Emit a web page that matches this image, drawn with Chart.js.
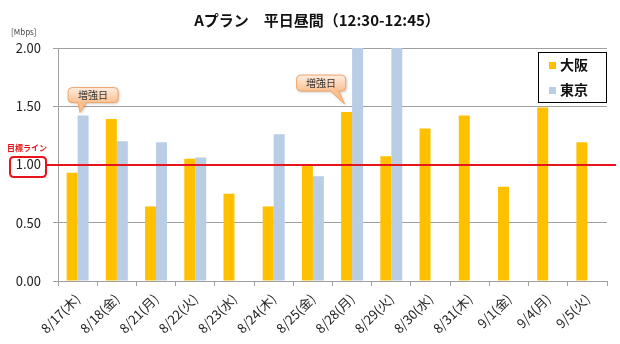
<!DOCTYPE html>
<html>
<head>
<meta charset="utf-8">
<script src="https://cdn.jsdelivr.net/npm/chart.js@4.4.1/dist/chart.umd.min.js"></script>
<style>
  html, body { margin: 0; padding: 0; background: #fff; }
  #wrap { width: 620px; height: 344px; position: relative; }
</style>
</head>
<body>
<div id="wrap"><canvas id="c" width="620" height="344"></canvas></div>
<script>
// Weekday daytime throughput (Mbps), 12:30-12:45
const categories = ['8/17(木)', '8/18(金)', '8/21(月)', '8/22(火)', '8/23(水)', '8/24(木)', '8/25(金)',
                    '8/28(月)', '8/29(火)', '8/30(水)', '8/31(木)', '9/1(金)', '9/4(月)', '9/5(火)'];
const osaka = [0.93, 1.39, 0.64, 1.05, 0.75, 0.64, 1.00, 1.45, 1.07, 1.31, 1.42, 0.81, 1.49, 1.19];
const tokyo = [1.42, 1.20, 1.19, 1.06, null, 1.26, 0.90, 2.00, 2.00, null, null, null, null, null];
const seriesNames = ['大阪', '東京'];
const yTickValues = [0, 0.5, 1.0, 1.5, 2.0];
const targetValue = 1.00;
// callouts: [dataset index, category index]
const boostCallouts = [[1, 0], [0, 7]];

const COLORS = ['#FFC000', '#B9CDE5'];
const JP = '"Noto Sans CJK JP", "Noto Sans", sans-serif';

function roundRect(ctx, x, y, w, h, r) {
  ctx.beginPath();
  ctx.moveTo(x + r, y);
  ctx.lineTo(x + w - r, y);
  ctx.quadraticCurveTo(x + w, y, x + w, y + r);
  ctx.lineTo(x + w, y + h - r);
  ctx.quadraticCurveTo(x + w, y + h, x + w - r, y + h);
  ctx.lineTo(x + r, y + h);
  ctx.quadraticCurveTo(x, y + h, x, y + h - r);
  ctx.lineTo(x, y + r);
  ctx.quadraticCurveTo(x, y, x + r, y);
  ctx.closePath();
}

function drawCallout(ctx, box, tail, tip, text) {
  // box: {x,y,w,h}; tail: [x1,x2] on bottom edge; tip: {x,y}
  ctx.save();
  ctx.shadowColor = 'rgba(0,0,0,0.25)';
  ctx.shadowBlur = 3;
  ctx.shadowOffsetX = 1;
  ctx.shadowOffsetY = 1;
  const r = 4, x = box.x, y = box.y, w = box.w, h = box.h;
  ctx.beginPath();
  ctx.moveTo(x + r, y);
  ctx.lineTo(x + w - r, y);
  ctx.quadraticCurveTo(x + w, y, x + w, y + r);
  ctx.lineTo(x + w, y + h - r);
  ctx.quadraticCurveTo(x + w, y + h, x + w - r, y + h);
  ctx.lineTo(tail[1], y + h);
  ctx.lineTo(tip.x, tip.y);
  ctx.lineTo(tail[0], y + h);
  ctx.lineTo(x + r, y + h);
  ctx.quadraticCurveTo(x, y + h, x, y + h - r);
  ctx.lineTo(x, y + r);
  ctx.quadraticCurveTo(x, y, x + r, y);
  ctx.closePath();
  const g = ctx.createLinearGradient(0, y, 0, y + h);
  g.addColorStop(0, '#FEEEE2');
  g.addColorStop(1, '#FAC08F');
  ctx.fillStyle = g;
  ctx.fill();
  ctx.shadowColor = 'transparent';
  ctx.strokeStyle = '#F2A46A';
  ctx.lineWidth = 1;
  ctx.stroke();
  ctx.fillStyle = '#333';
  ctx.font = '10px ' + JP;
  ctx.textAlign = 'center';
  ctx.textBaseline = 'middle';
  ctx.fillText(text, x + w / 2, y + h / 2 + 0.5);
  ctx.restore();
}

const decor = {
  id: 'decor',
  beforeDraw(chart) {
    const ctx = chart.ctx;
    ctx.save();
    ctx.fillStyle = '#fff';
    ctx.fillRect(0, 0, chart.width, chart.height);
    ctx.restore();
  },
  afterDatasetsDraw(chart) {
    const ctx = chart.ctx;
    const ys = chart.scales.y;
    const area = chart.chartArea;
    const yT = Math.round(ys.getPixelForValue(targetValue));

    // target line
    ctx.save();
    ctx.strokeStyle = '#E8141B';
    ctx.lineWidth = 2;
    ctx.beginPath();
    ctx.moveTo(46, yT);
    ctx.lineTo(area.right + 9, yT);
    ctx.stroke();
    // box round the 1.00 tick label
    roundRect(ctx, 10, yT - 8, 36, 20, 4);
    ctx.stroke();
    ctx.fillStyle = '#E8141B';
    ctx.font = 'bold 8px ' + JP;
    ctx.textAlign = 'left';
    ctx.textBaseline = 'middle';
    ctx.fillText('目標ライン', 7, yT - 17);
    ctx.restore();

    // callouts anchored to bar tops
    boostCallouts.forEach(([ds, idx], k) => {
      const bar = chart.getDatasetMeta(ds).data[idx];
      if (k === 0) {
        const tip = { x: bar.x - 3, y: bar.y - 3 };
        drawCallout(ctx, { x: tip.x - 12, y: tip.y - 25, w: 50, h: 15 }, [tip.x - 2, tip.x + 6], tip, '増強日');
      } else {
        const tip = { x: bar.x - 2, y: bar.y - 8 };
        drawCallout(ctx, { x: tip.x - 48, y: tip.y - 29, w: 49, h: 16 }, [tip.x - 14, tip.x - 6], tip, '増強日');
      }
    });

    // legend
    ctx.save();
    const lx = 538, ly = 52, lw = 69, lh = 51;
    ctx.fillStyle = '#fff';
    ctx.fillRect(lx, ly, lw, lh);
    ctx.strokeStyle = '#000';
    ctx.lineWidth = 1;
    ctx.strokeRect(lx + 0.5, ly + 0.5, lw - 1, lh - 1);
    ctx.font = 'bold 14px ' + JP;
    ctx.textBaseline = 'middle';
    ctx.textAlign = 'left';
    seriesNames.forEach((name, i) => {
      const cy = ly + 13 + i * 25;
      ctx.fillStyle = COLORS[i];
      ctx.fillRect(549, cy - 3, 7, 7);
      ctx.fillStyle = '#111';
      ctx.fillText(name, 560, cy);
    });
    ctx.restore();
  },
  afterDraw(chart) {
    const ctx = chart.ctx;
    ctx.save();
    ctx.fillStyle = '#111';
    ctx.font = 'bold 15px ' + JP;
    ctx.textAlign = 'center';
    ctx.textBaseline = 'middle';
    ctx.fillText('Aプラン　平日昼間（12:30-12:45）', 317, 20);
    ctx.font = '8px ' + JP;
    ctx.textAlign = 'left';
    ctx.fillStyle = '#444';
    ctx.fillText('[Mbps]', 11, 32);
    ctx.restore();
  }
};

new Chart(document.getElementById('c'), {
  type: 'bar',
  data: {
    labels: categories,
    datasets: [
      { label: seriesNames[0], data: osaka, backgroundColor: COLORS[0] },
      { label: seriesNames[1], data: tokyo, backgroundColor: COLORS[1] }
    ]
  },
  options: {
    responsive: false,
    animation: false,
    devicePixelRatio: 1,
    layout: { padding: { left: 0, right: 13, top: 48, bottom: 0 } },
    datasets: { bar: { categoryPercentage: 0.56, barPercentage: 1.0 } },
    plugins: { legend: { display: false }, title: { display: false }, tooltip: { enabled: false } },
    scales: {
      x: {
        grid: { display: true, drawOnChartArea: false, tickLength: 5, color: '#A0A0A0', offset: true },
        border: { color: '#A0A0A0', width: 1 },
        ticks: {
          color: '#222',
          font: { family: JP, size: 13 },
          minRotation: 45, maxRotation: 45, padding: 5, autoSkip: false
        },
        afterFit(scale) { scale.height = 63; }
      },
      y: {
        min: 0, max: 2,
        afterBuildTicks(scale) { scale.ticks = yTickValues.map(v => ({ value: v })); },
        grid: { color: '#A0A0A0', tickLength: 5 },
        border: { color: '#A0A0A0', width: 1 },
        ticks: {
          color: '#222',
          padding: 12,
          font: { family: JP, size: 13 },
          callback: v => Number(v).toFixed(2)
        },
        afterFit(scale) { scale.width = 58; }
      }
    }
  },
  plugins: [decor]
});
</script>
</body>
</html>
